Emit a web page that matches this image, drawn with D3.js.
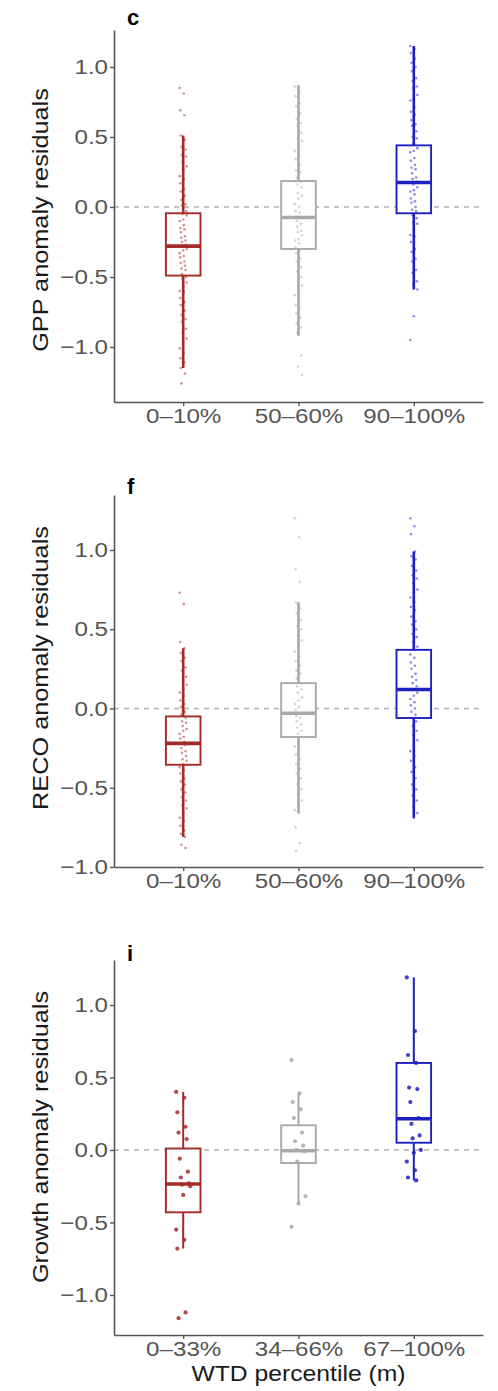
<!DOCTYPE html>
<html>
<head>
<meta charset="utf-8">
<script src="https://cdn.jsdelivr.net/npm/d3@7"></script>
<style>
	body { margin: 0; background: #fff; }
	text { font-family: "Liberation Sans", Arial, Helvetica, sans-serif; }
</style>
</head>
<body>
<svg id="chart"></svg>
<script>

// categories
var wtdCats = ["0–10%", "50–60%", "90–100%"];
var growthCats = ["0–33%", "34–66%", "67–100%"];
var yTicks = [-1, -0.5, 0, 0.5, 1];

// box stats (low whisker, q1, median, q3, high whisker)
var gppLow = [-1.15, -0.92, -0.59];
var gppQ1 = [-0.49, -0.30, -0.045];
var gppMedian = [-0.28, -0.075, 0.175];
var gppQ3 = [-0.045, 0.185, 0.44];
var gppHigh = [0.51, 0.87, 1.15];

var recoLow = [-0.81, -0.66, -0.69];
var recoQ1 = [-0.355, -0.18, -0.06];
var recoMedian = [-0.22, -0.03, 0.12];
var recoQ3 = [-0.05, 0.16, 0.37];
var recoHigh = [0.38, 0.67, 0.99];

var growthLow = [-0.68, -0.37, -0.21];
var growthQ1 = [-0.43, -0.09, 0.05];
var growthMedian = [-0.235, -0.005, 0.215];
var growthQ3 = [0.01, 0.17, 0.60];
var growthHigh = [0.40, 0.39, 1.19];

// residual points (estimated, dense clouds)
var gppPtsLow = [0.85, 0.81, 0.69, 0.655, 0.51, 0.48, 0.43, 0.41, 0.37, 0.36, 0.32, 0.29, 0.27, 0.22, 0.2, 0.17, 0.13, 0.11, 0.08, 0.05, 0.02, 0.01, -0.03, -0.05, -0.06, -0.09, -0.1, -0.13, -0.15, -0.16, -0.18, -0.21, -0.22, -0.24, -0.25, -0.27, -0.28, -0.3, -0.31, -0.33, -0.35, -0.36, -0.39, -0.4, -0.42, -0.44, -0.45, -0.48, -0.5, -0.51, -0.54, -0.57, -0.6, -0.61, -0.65, -0.68, -0.7, -0.74, -0.77, -0.8, -0.82, -0.87, -0.9, -0.94, -0.97, -1.01, -1.04, -1.08, -1.11, -1.15, -1.19, -1.26];
var gppPtsMid = [0.86, 0.82, 0.79, 0.74, 0.72, 0.67, 0.63, 0.6, 0.58, 0.53, 0.49, 0.47, 0.42, 0.4, 0.36, 0.34, 0.3, 0.26, 0.25, 0.21, 0.18, 0.16, 0.14, 0.1, 0.08, 0.06, 0.02, 0.0, -0.03, -0.04, -0.07, -0.08, -0.1, -0.12, -0.14, -0.17, -0.18, -0.2, -0.23, -0.24, -0.26, -0.29, -0.31, -0.33, -0.37, -0.39, -0.43, -0.46, -0.5, -0.53, -0.56, -0.6, -0.63, -0.65, -0.7, -0.72, -0.76, -0.79, -0.83, -0.86, -0.9, -1.06, -1.14, -1.2];
var gppPtsHigh = [1.15, 1.13, 1.1, 1.06, 1.03, 1.0, 0.97, 0.92, 0.9, 0.86, 0.85, 0.8, 0.77, 0.76, 0.71, 0.68, 0.66, 0.62, 0.59, 0.58, 0.54, 0.5, 0.49, 0.45, 0.42, 0.4, 0.39, 0.35, 0.33, 0.3, 0.28, 0.27, 0.24, 0.21, 0.2, 0.18, 0.16, 0.14, 0.12, 0.11, 0.09, 0.06, 0.04, 0.03, 0.0, -0.02, -0.03, -0.06, -0.08, -0.11, -0.12, -0.16, -0.2, -0.21, -0.25, -0.3, -0.32, -0.37, -0.39, -0.45, -0.47, -0.53, -0.55, -0.59, -0.78, -0.95];

var recoPtsLow = [0.73, 0.66, 0.42, 0.38, 0.35, 0.32, 0.3, 0.26, 0.24, 0.2, 0.18, 0.15, 0.12, 0.1, 0.08, 0.05, 0.03, 0.01, -0.02, -0.04, -0.06, -0.08, -0.09, -0.11, -0.13, -0.14, -0.16, -0.18, -0.19, -0.21, -0.22, -0.23, -0.25, -0.27, -0.28, -0.3, -0.32, -0.33, -0.35, -0.37, -0.39, -0.41, -0.44, -0.46, -0.48, -0.51, -0.53, -0.56, -0.58, -0.61, -0.63, -0.66, -0.69, -0.71, -0.74, -0.77, -0.79, -0.81, -0.86, -0.88];
var recoPtsMid = [1.2, 1.08, 0.88, 0.8, 0.67, 0.63, 0.6, 0.56, 0.52, 0.5, 0.46, 0.43, 0.4, 0.36, 0.33, 0.3, 0.27, 0.24, 0.22, 0.19, 0.16, 0.14, 0.12, 0.1, 0.07, 0.05, 0.03, 0.01, -0.01, -0.03, -0.05, -0.06, -0.08, -0.1, -0.12, -0.14, -0.16, -0.18, -0.21, -0.24, -0.26, -0.29, -0.32, -0.35, -0.38, -0.41, -0.44, -0.48, -0.51, -0.54, -0.58, -0.61, -0.64, -0.66, -0.75, -0.85, -0.9];
var recoPtsHigh = [1.2, 1.15, 1.1, 0.99, 0.96, 0.94, 0.9, 0.87, 0.84, 0.82, 0.79, 0.75, 0.73, 0.7, 0.67, 0.64, 0.62, 0.58, 0.55, 0.53, 0.5, 0.47, 0.45, 0.42, 0.39, 0.37, 0.34, 0.32, 0.29, 0.27, 0.25, 0.22, 0.2, 0.18, 0.16, 0.14, 0.12, 0.1, 0.08, 0.06, 0.04, 0.02, 0.0, -0.02, -0.04, -0.06, -0.08, -0.11, -0.14, -0.17, -0.2, -0.23, -0.27, -0.3, -0.33, -0.37, -0.4, -0.44, -0.48, -0.51, -0.55, -0.58, -0.62, -0.66, -0.69];

var growthPtsLow = [0.40, 0.36, 0.26, 0.16, 0.12, 0.075, -0.06, -0.15, -0.19, -0.23, -0.24, -0.25, -0.31, -0.55, -0.62, -0.68, -1.12, -1.16];
var growthPtsMid = [0.62, 0.39, 0.33, 0.28, 0.22, 0.12, 0.06, 0.03, 0.0, -0.01, -0.08, -0.32, -0.37, -0.53];
var growthPtsHigh = [1.19, 0.82, 0.655, 0.6, 0.43, 0.42, 0.33, 0.22, 0.18, 0.1, 0.08, 0.0, -0.02, -0.08, -0.14, -0.19, -0.21];

// styling
var groupColors = ["#a52a2a", "#a9a9a9", "#1f1fc2"];
var axisColor = "#555";
var textStretch = 1.15;

var svgWidth = 498, svgHeight = 1391;
var plotLeft = 114, plotRight = 483;

var svg = d3.select("#chart")
	.attr("width", svgWidth)
	.attr("height", svgHeight);

// panel layout
var panels = [
	{ letter: "c", letterY: 25, title: "GPP anomaly residuals", titleY: 220,
		top: 30, bottom: 402, domain: [-1.393, 1.264], cats: wtdCats,
		low: gppLow, q1: gppQ1, med: gppMedian, q3: gppQ3, high: gppHigh,
		pts: [gppPtsLow, gppPtsMid, gppPtsHigh], dense: true },
	{ letter: "f", letterY: 494, title: "RECO anomaly residuals", titleY: 668,
		top: 495, bottom: 867, domain: [-1.0, 1.347], cats: wtdCats,
		low: recoLow, q1: recoQ1, med: recoMedian, q3: recoQ3, high: recoHigh,
		pts: [recoPtsLow, recoPtsMid, recoPtsHigh], dense: true },
	{ letter: "i", letterY: 961, title: "Growth anomaly residuals", titleY: 1137,
		top: 960, bottom: 1335, domain: [-1.276, 1.31], cats: growthCats,
		low: growthLow, q1: growthQ1, med: growthMedian, q3: growthQ3, high: growthHigh,
		pts: [growthPtsLow, growthPtsMid, growthPtsHigh], dense: false }
];

// deterministic horizontal spread for the points
function spread(i) {
	return ((i * 7) % 13 - 6) / 6;
}

function drawPanel(p) {
	var xscale = d3.scalePoint().domain(p.cats).range([plotLeft, plotRight]).padding(0.6);
	var yscale = d3.scaleLinear().domain(p.domain).range([p.bottom, p.top]);
	var boxW = xscale.step() * 0.3;
	var g = svg.append("g");

	// zero reference line
	g.append("line")
		.attr("x1", plotLeft).attr("x2", plotRight)
		.attr("y1", yscale(0)).attr("y2", yscale(0))
		.attr("stroke", "#b0b0b0")
		.attr("stroke-width", 1.6)
		.attr("stroke-dasharray", "5,5");

	p.cats.forEach(function(cat, i) {
		var cx = xscale(cat);
		var col = groupColors[i];

		g.append("line")
			.attr("x1", cx).attr("x2", cx)
			.attr("y1", yscale(p.low[i])).attr("y2", yscale(p.high[i]))
			.attr("stroke", col)
			.attr("stroke-width", p.dense ? 2.6 : 2);

		g.append("rect")
			.attr("x", cx - boxW / 2)
			.attr("width", boxW)
			.attr("y", yscale(p.q3[i]))
			.attr("height", yscale(p.q1[i]) - yscale(p.q3[i]))
			.attr("fill", "#fff")
			.attr("stroke", col)
			.attr("stroke-width", 1.9);

		g.append("line")
			.attr("x1", cx - boxW / 2).attr("x2", cx + boxW / 2)
			.attr("y1", yscale(p.med[i])).attr("y2", yscale(p.med[i]))
			.attr("stroke", col)
			.attr("stroke-width", 3.6);

		var jw = p.dense ? 3.5 : 7;
		g.selectAll(null)
			.data(p.pts[i])
			.enter().append("circle")
			.attr("cx", function(d, k) { return cx + spread(k) * jw; })
			.attr("cy", function(d) { return yscale(d); })
			.attr("r", p.dense ? 1.3 : 2.1)
			.attr("fill", col)
			.attr("fill-opacity", p.dense ? 0.5 : 0.85);
	});

	// axises
	var yaxis = d3.axisLeft(yscale)
		.tickValues(yTicks)
		.tickFormat(d3.format(".1f"))
		.tickSize(4)
		.tickSizeOuter(0);
	var gy = g.append("g")
		.attr("transform", "translate(" + plotLeft + ",0)")
		.call(yaxis)
		.attr("color", axisColor)
		.attr("font-size", 21)
		.attr("font-family", null);
	gy.select(".domain").attr("stroke-width", 1.6);
	gy.selectAll(".tick line").attr("stroke-width", 1.4);
	gy.selectAll(".tick text")
		.attr("x", -6 / textStretch)
		.attr("transform", "scale(" + textStretch + ",1)");

	var xaxis = d3.axisBottom(xscale).tickSize(4).tickSizeOuter(0);
	var gx = g.append("g")
		.attr("transform", "translate(0," + p.bottom + ")")
		.call(xaxis)
		.attr("color", axisColor)
		.attr("font-size", 21)
		.attr("font-family", null);
	gx.select(".domain").attr("stroke-width", 1.6);
	gx.selectAll(".tick line").attr("stroke-width", 1.4);
	gx.selectAll(".tick text")
		.attr("y", 6)
		.attr("transform", "scale(" + textStretch + ",1)");

	// y title
	g.append("text")
		.attr("transform", "translate(48," + p.titleY + ") rotate(-90) scale(" + textStretch + ",1)")
		.attr("text-anchor", "middle")
		.attr("font-size", 22)
		.attr("fill", "#1a1a1a")
		.text(p.title);

	// panel letter
	g.append("text")
		.attr("x", 127)
		.attr("y", p.letterY)
		.attr("font-size", 22)
		.attr("font-weight", "bold")
		.attr("fill", "#000")
		.text(p.letter);
}

panels.forEach(drawPanel);

// x title under the last panel
svg.append("text")
	.attr("transform", "translate(" + ((plotLeft + plotRight) / 2) + ",1381) scale(" + textStretch + ",1)")
	.attr("text-anchor", "middle")
	.attr("font-size", 21.5)
	.attr("fill", "#1a1a1a")
	.text("WTD percentile (m)");

</script>
</body>
</html>
